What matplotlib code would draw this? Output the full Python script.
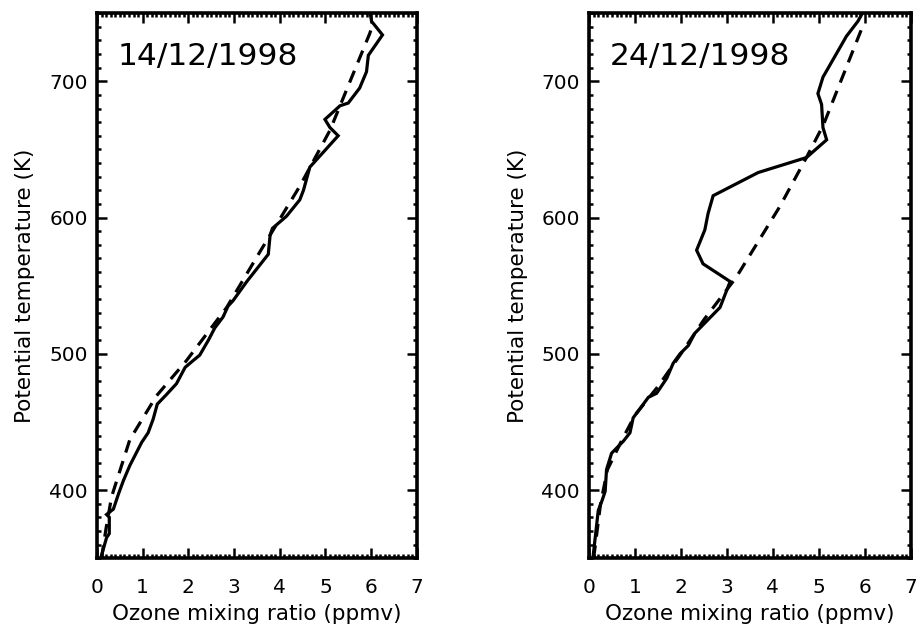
import matplotlib
matplotlib.use('Agg')
import matplotlib.pyplot as plt
from matplotlib.ticker import MultipleLocator

# 14/12/1998 profile
obs1_o3 = [0.10, 0.21, 0.27, 0.27, 0.21, 0.36, 0.47, 0.58, 0.72, 0.98, 1.12, 1.23, 1.32,
           1.52, 1.74, 1.93, 2.07, 2.25, 2.44, 2.58, 2.76, 2.87, 2.98, 3.13, 3.28, 3.75,
           3.79, 3.84, 4.15, 4.44, 4.52, 4.66, 5.28, 5.10, 4.99, 5.32, 5.50, 5.75, 5.90,
           5.94, 6.25, 6.01, 5.98]
obs1_theta = [352, 365, 368, 380, 382, 386, 397, 407, 418, 435, 442, 452, 463,
              470, 478, 490, 494, 499, 510, 519, 527, 535, 539, 546, 553, 573,
              587, 592, 601, 613, 620, 637, 660, 666, 672, 682, 684, 695, 707,
              719, 734, 744, 750]
ref1_o3 = [0.10, 0.20, 0.32, 0.72, 1.30, 1.96, 2.84, 3.57, 4.44, 5.10, 5.97, 6.02]
ref1_theta = [350, 372, 395, 437, 469, 495, 534, 575, 623, 664, 735, 740]

# 24/12/1998 profile
obs2_o3 = [0.09, 0.20, 0.28, 0.35, 0.38, 0.49, 0.75, 0.89, 0.96, 1.07, 1.29, 1.47,
           1.69, 1.83, 1.98, 2.16, 2.30, 2.56, 2.85, 3.07, 2.48, 2.34, 2.52, 2.59,
           2.70, 3.68, 4.73, 5.17, 5.09, 5.06, 4.98, 5.09, 5.60, 5.85, 5.95]
obs2_theta = [352, 385, 392, 399, 415, 427, 436, 442, 453, 458, 468, 471,
              482, 493, 500, 506, 515, 524, 534, 553, 566, 576, 591, 603,
              616, 633, 644, 657, 666, 683, 691, 703, 733, 744, 750]
ref2_o3 = [0.10, 0.25, 0.40, 0.72, 1.00, 1.50, 2.00, 2.50, 3.20, 4.15, 4.73, 5.10, 5.95]
ref2_theta = [350, 390, 415, 437, 455, 476, 500, 525, 556, 608, 644, 668, 740]

dates = ['14/12/1998', '24/12/1998']

plt.rcParams['font.family'] = 'DejaVu Sans'
fig = plt.figure(figsize=(9.19, 6.25), dpi=100)
ax1 = fig.add_axes([0.1055, 0.107, 0.348, 0.872])
ax2 = fig.add_axes([0.641, 0.107, 0.350, 0.872])

profiles = [(ax1, obs1_o3, obs1_theta, ref1_o3, ref1_theta, dates[0]),
            (ax2, obs2_o3, obs2_theta, ref2_o3, ref2_theta, dates[1])]

for ax, o3, th, r_o3, r_th, date in profiles:
    ax.plot(o3, th, color='black', lw=2.3, solid_joinstyle='miter')
    ax.plot(r_o3, r_th, color='black', lw=2.3, linestyle=(0, (4, 2.8)))
    ax.set_xlim(0, 7)
    ax.set_ylim(350, 750)
    ax.xaxis.set_major_locator(MultipleLocator(1))
    ax.xaxis.set_minor_locator(MultipleLocator(0.1))
    ax.yaxis.set_major_locator(MultipleLocator(100))
    ax.yaxis.set_minor_locator(MultipleLocator(10))
    ax.tick_params(which='both', direction='in', top=True, right=True, width=1.8,
                   labelsize=14.5)
    ax.tick_params(axis='x', which='both', pad=14)
    ax.tick_params(axis='y', which='both', pad=6.5)
    ax.tick_params(which='major', length=7)
    ax.tick_params(which='minor', length=3)
    for s in ax.spines.values():
        s.set_linewidth(2.6)
    ax.set_xlabel('Ozone mixing ratio (ppmv)', fontsize=15.5, labelpad=5)
    ax.set_ylabel('Potential temperature (K)', fontsize=15.5, labelpad=10)
    ax.text(0.065, 0.921, date, transform=ax.transAxes, fontsize=22.5,
            ha='left', va='center')

fig.savefig('out.png', dpi=100)
